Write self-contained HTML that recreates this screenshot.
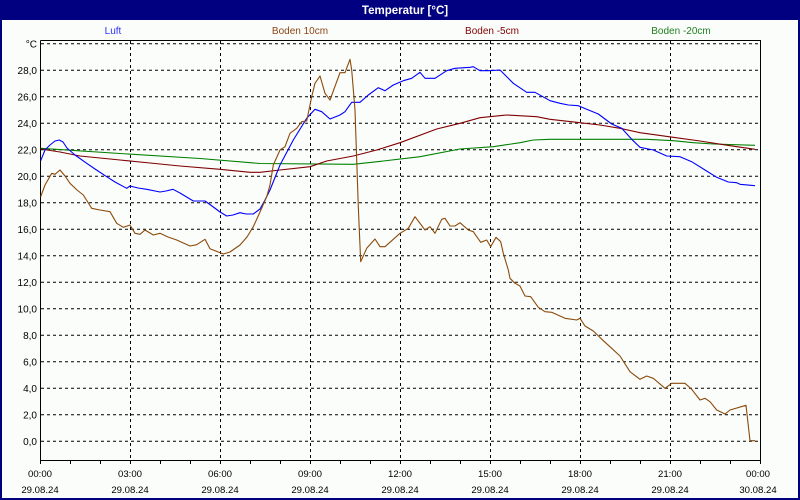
<!DOCTYPE html>
<html><head><meta charset="utf-8"><style>
html,body{margin:0;padding:0;background:#fbfdfb;}
svg{display:block;}
text{font-family:"Liberation Sans",Arial,sans-serif;}
</style></head><body>
<svg width="800" height="500" viewBox="0 0 800 500" xmlns="http://www.w3.org/2000/svg">
<rect x="0" y="0" width="800" height="500" fill="#fbfdfb"/>
<!-- frame -->
<rect x="0" y="0" width="800" height="20" fill="#000080"/>
<rect x="0" y="0" width="2" height="500" fill="#000080"/>
<rect x="798" y="0" width="2" height="500" fill="#000080"/>
<rect x="0" y="498" width="800" height="2" fill="#000080"/>
<text x="405" y="14" font-size="11.5" font-weight="bold" fill="#fff" text-anchor="middle">Temperatur [°C]</text>
<!-- legend -->
<g font-size="10" text-anchor="middle">
<text x="113" y="34" fill="#3030ff">Luft</text>
<text x="300" y="34" fill="#8b4513">Boden 10cm</text>
<text x="492" y="34" fill="#800000">Boden -5cm</text>
<text x="681" y="34" fill="#208020">Boden -20cm</text>
</g>
<!-- grid -->
<g stroke="#000" stroke-width="1" stroke-dasharray="3,3" fill="none">
<path d="M41 43.8H760M41 70.3H760M41 96.8H760M41 123.3H760M41 149.8H760M41 176.3H760M41 202.8H760M41 229.3H760M41 255.8H760M41 282.3H760M41 308.8H760M41 335.3H760M41 361.8H760M41 388.3H760M41 414.8H760M41 441.3H760"/>
<path d="M130.5 41V460M220.5 41V460M310.5 41V460M400.5 41V460M490.5 41V460M580.5 41V460M670.5 41V460"/>
</g>
<!-- axes box -->
<g stroke="#000" stroke-width="1" fill="none">
<path d="M40.5 40.5H760.5V461M40.5 40.5V460.5H760.5"/>
</g>
<g stroke="#000" stroke-width="1">
<path d="M70.5 461v3M100.5 461v3M130.5 461v3M160.5 461v3M190.5 461v3M220.5 461v3M250.5 461v3M280.5 461v3M310.5 461v3M340.5 461v3M370.5 461v3M400.5 461v3M430.5 461v3M460.5 461v3M490.5 461v3M520.5 461v3M550.5 461v3M580.5 461v3M610.5 461v3M640.5 461v3M670.5 461v3M700.5 461v3M730.5 461v3M760.5 461v3M40.5 461v3"/>
</g>
<!-- y labels -->
<g font-size="10" text-anchor="end" fill="#000">
<text x="37" y="47.5">°C</text>
<text x="37" y="74">28,0</text>
<text x="37" y="100.5">26,0</text>
<text x="37" y="127">24,0</text>
<text x="37" y="153.5">22,0</text>
<text x="37" y="180">20,0</text>
<text x="37" y="206.5">18,0</text>
<text x="37" y="233">16,0</text>
<text x="37" y="259.5">14,0</text>
<text x="37" y="286">12,0</text>
<text x="37" y="312.5">10,0</text>
<text x="37" y="339">8,0</text>
<text x="37" y="365.5">6,0</text>
<text x="37" y="392">4,0</text>
<text x="37" y="418.5">2,0</text>
<text x="37" y="445">0,0</text>
</g>
<!-- x labels -->
<g font-size="9.6" text-anchor="middle" fill="#000">
<text x="40" y="477">00:00</text><text x="40" y="493">29.08.24</text>
<text x="130" y="477">03:00</text><text x="130" y="493">29.08.24</text>
<text x="220" y="477">06:00</text><text x="220" y="493">29.08.24</text>
<text x="310" y="477">09:00</text><text x="310" y="493">29.08.24</text>
<text x="400" y="477">12:00</text><text x="400" y="493">29.08.24</text>
<text x="490" y="477">15:00</text><text x="490" y="493">29.08.24</text>
<text x="580" y="477">18:00</text><text x="580" y="493">29.08.24</text>
<text x="670" y="477">21:00</text><text x="670" y="493">29.08.24</text>
<text x="758" y="477">00:00</text><text x="758" y="493">30.08.24</text>
</g>
<!-- series -->
<g fill="none" stroke-width="1.1" stroke-linejoin="round">
<polyline stroke="#008000" points="40.7,148.3 120,153.5 200,158.5 260,163.5 353.3,164.3 383.3,161 420,156.7 460,149 493.3,146.7 520,142.7 533.3,140 550,139.3 646.7,139.3 673.3,140.7 693.3,142.7 713.3,144 755,145.3"/>
<polyline stroke="#800000" points="40.7,149 60,152 80,156 100,158 120,160 150,163 180,166 220,169.3 250,172.3 260,172.3 280,170 310,166.7 326.7,161 353.3,156 376.7,150 400,142.7 436.7,129 460,123.3 480,117.7 503.3,115.3 506.7,115 536.7,116.7 550,119.3 580,122.7 600,125 620,128.3 640,132.7 673.3,137.3 700,141 730,145.7 755,149.3"/>
<polyline stroke="#0000ff" points="40.7,160.7 45,150 50,145 55,141 59.3,140 63,142 67,148 75,155 86.7,163.3 95,169 106.7,176.7 115,182 126.7,188.3 130,186 138,188 146.7,189.3 160,192 166,191 173,189.3 180,193 193.3,201 205,201 212,206 220,212 226.7,216 233,215 240,212.7 246,214 253.3,214 260,209 265,200 270,190 280,165 293.3,140 306.7,118.3 315,109.3 321.7,111.7 330,119 340,115 345,111.7 351.7,102.3 360,102.3 368.3,95 378.3,87.7 385,90.7 393.3,85 403.3,80.7 411.7,78.3 420,72.3 425,78.3 435,78.3 446.7,70.7 455,68.3 470,67.3 473.3,66.7 480,70.7 490,70.7 500,70 513.3,83.3 526.7,92.3 535,92.3 550,100.7 560,103.3 568.3,105 578.3,105.7 586.7,109.3 598.3,114 611.7,124 621.7,128.3 631.7,139.3 640,147.3 653.3,150 666.7,156 680,156.7 691.7,161.7 705,170 716.7,177.3 728.3,182 736.7,182.7 740,184.3 755,185.7"/>
<polyline stroke="#8b4a0a" points="40.7,196.7 45,185 51.7,173.3 55,174.3 60,170 65,176 70,183.3 77,190 83.3,195 91.7,208.3 100,210 110,211.7 116.7,223.3 123.3,227.3 130,225 135,233.3 140,234.3 145,230 153.3,235 160,233.3 168,237 176.7,240 190,246 196.7,244.7 205,239.3 210,248.7 223.3,254 230,252 240,245 247,237 253.3,226.7 260,212 266.7,196.7 270,185 273.3,165 280,150 285,146.7 290,133.3 296.7,128.3 301.7,121.7 306.7,121 311.7,96.7 315,83.3 320,76 325,93.3 330,100 340,72.7 345,72.7 350,59.3 351.7,70 355,110 358.3,206.7 360.7,261.7 366.7,248.3 375,239 380,246.7 385,246.7 400,233.3 408.3,228.3 415,216.7 425,230 430,226.7 435,233.3 441.7,219.3 445,218.3 450,226 455,226 460,222.7 468.3,230 473.3,231.7 480.7,242.3 486.7,240 490.7,246.7 496,237.3 500.7,241.7 503.3,253.3 508.3,270 510,278.3 515,283.3 520,286 525,296 530.7,296.7 538.3,307.3 545,311.7 551.7,312.3 565,318.3 576.7,320 580,318.3 585,326 593.3,331 603.3,340.7 611.7,348.3 620,356 630,371.7 640,379.3 646.7,376 653.3,378.3 665,388.3 671.7,383.3 685,383.3 691.7,389.3 700,400 705,398.3 710,401.7 716.7,410 725,414 730,410 746,405.3 750,440.7 755,440.7"/>
</g>
</svg>
</body></html>
